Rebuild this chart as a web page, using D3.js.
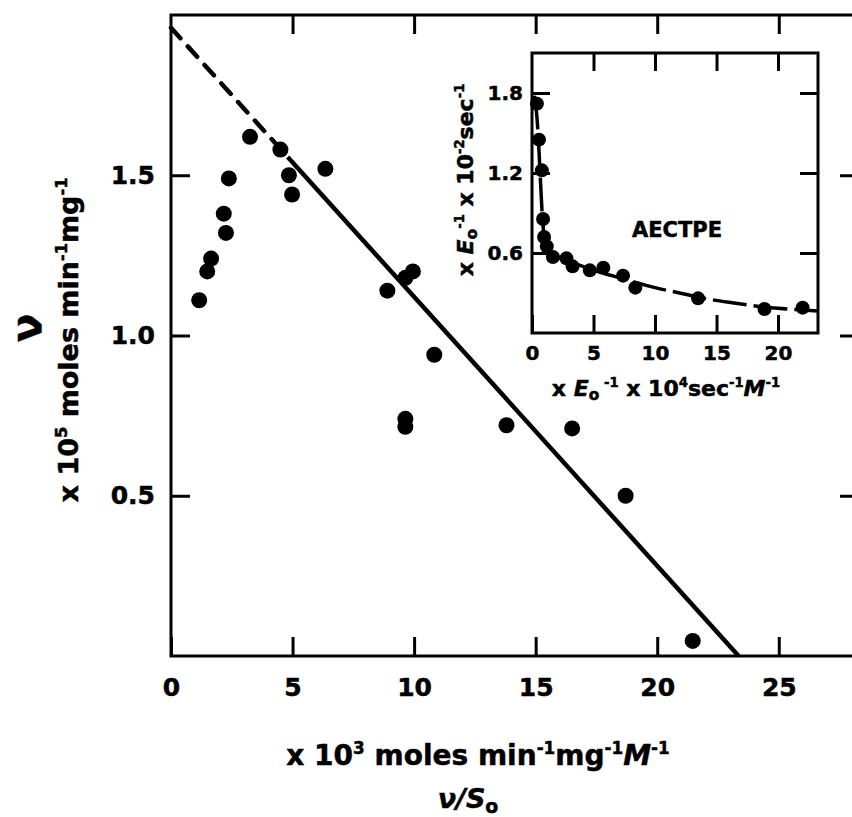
<!DOCTYPE html>
<html>
<head>
<meta charset="utf-8">
<script src="https://cdn.jsdelivr.net/npm/d3@7"></script>
<style>
  body { margin: 0; background: #fff; }
  svg { display: block; }
  text { font-family: "DejaVu Sans", sans-serif; font-weight: bold; fill: #000; stroke: #000; stroke-width: 0.5px; }
</style>
</head>
<body>
<svg id="chart" width="852" height="817"></svg>
<script>
// ---- Main plot: rate v against v/S0 ----
const mainRatio = [1.16, 1.49, 1.65, 2.17, 2.26, 2.38, 3.25, 4.50, 4.85, 4.98, 6.35,
                   8.90, 9.64, 9.95, 10.83, 9.64, 9.64, 13.80, 16.50, 18.70, 21.46];
const mainRate  = [1.11, 1.20, 1.24, 1.38, 1.32, 1.49, 1.62, 1.58, 1.50, 1.44, 1.52,
                   1.14, 1.18, 1.20, 0.94, 0.74, 0.715, 0.72, 0.71, 0.50, 0.047];
const mainXTicks = [0, 5, 10, 15, 20, 25];
const mainYTicks = [0.5, 1.0, 1.5];
// fitted straight line: intercepts on both axes, dashed extrapolation near the y axis
const fitYIntercept = 1.96;
const fitXIntercept = 23.35;
const fitDashedUntil = 4.8;

// ---- Inset: AECTPE ----
const insetX = [0.40, 0.57, 0.80, 0.90, 0.98, 1.20, 1.70, 2.80, 3.30, 4.70, 5.80, 7.40, 8.40, 13.50, 18.90, 22.00];
const insetY = [1.72, 1.45, 1.22, 0.855, 0.72, 0.65, 0.57, 0.56, 0.50, 0.47, 0.49, 0.43, 0.34, 0.26, 0.18, 0.19];
const insetCurveX = [0.20, 0.40, 0.55, 0.70, 0.85, 1.00, 1.30, 1.80, 2.50, 3.50, 5.00, 6.50, 8.00, 10.0, 12.0, 14.0, 16.0, 18.0, 20.0, 22.0, 23.25];
const insetCurveY = [1.78, 1.62, 1.40, 1.12, 0.86, 0.72, 0.64, 0.59, 0.555, 0.52, 0.47, 0.43, 0.39, 0.34, 0.30, 0.26, 0.23, 0.205, 0.185, 0.172, 0.165];
const insetXTicks = [0, 5, 10, 15, 20];
const insetYTicks = [0.6, 1.2, 1.8];

const svg = d3.select("#chart");

// scales
const x = d3.scaleLinear().domain([0, 28.3]).range([171, 859]);
const y = d3.scaleLinear().domain([0, 2.0]).range([656, 15]);
const ix = d3.scaleLinear().domain([0, 23.25]).range([532, 818]);
const iy = d3.scaleLinear().domain([0, 2.1]).range([333, 53]);

// text with super/subscripts and italics
function rich(sel, parts, size) {
  let shift = 0;
  parts.forEach(p => {
    const ts = sel.append("tspan").text(p.t);
    let target = 0;
    if (p.sup) { target = -0.4 * size; ts.attr("font-size", size * 0.6); }
    if (p.sub) { target = 0.2 * size; ts.attr("font-size", size * 0.7); }
    if (p.it) ts.attr("font-style", "italic");
    if (target !== shift) ts.attr("dy", target - shift);
    shift = target;
  });
  return sel;
}

function styleAxis(g, fs) {
  g.select(".domain").remove();
  g.selectAll(".tick line").attr("stroke", "#000").attr("stroke-width", 3);
  g.selectAll(".tick text").attr("font-size", fs).attr("fill", "#000")
    .attr("font-family", "DejaVu Sans").attr("font-weight", "bold");
}

// ---- main frame and axes ----
const tk = 19;
svg.append("g").attr("transform", `translate(0,${y(0)})`)
  .call(d3.axisBottom(x).tickValues(mainXTicks).tickSize(-tk).tickPadding(22).tickFormat(d3.format("d")))
  .call(g => styleAxis(g, 25));
svg.append("g").attr("transform", `translate(0,${y(2)})`)
  .call(d3.axisTop(x).tickValues(mainXTicks.slice(1)).tickSize(-tk).tickFormat(""))
  .call(g => styleAxis(g, 25));
svg.append("g").attr("transform", `translate(${x(0)},0)`)
  .call(d3.axisLeft(y).tickValues(mainYTicks).tickSize(-tk).tickPadding(16).tickFormat(d3.format(".1f")))
  .call(g => styleAxis(g, 25));
svg.append("g").attr("transform", `translate(${x(28.3)},0)`)
  .call(d3.axisRight(y).tickValues(mainYTicks).tickSize(-tk).tickFormat(""))
  .call(g => styleAxis(g, 25));
svg.append("rect")
  .attr("x", x(0)).attr("y", y(2)).attr("width", x(28.3) - x(0)).attr("height", y(0) - y(2))
  .attr("fill", "none").attr("stroke", "#000").attr("stroke-width", 3);

// fitted line
const fitAt = v => fitYIntercept * (1 - v / fitXIntercept);
const line = d3.line().x(d => x(d[0])).y(d => y(d[1]));
svg.append("path")
  .datum([[0, fitYIntercept], [fitDashedUntil, fitAt(fitDashedUntil)]])
  .attr("d", line).attr("fill", "none").attr("stroke", "#000")
  .attr("stroke-width", 4.5).attr("stroke-dasharray", "14,11").attr("stroke-linecap", "round");
svg.append("path")
  .datum([[fitDashedUntil, fitAt(fitDashedUntil)], [fitXIntercept, 0]])
  .attr("d", line).attr("fill", "none").attr("stroke", "#000").attr("stroke-width", 4.5);

// data points
svg.append("g").selectAll("circle").data(d3.range(mainRatio.length)).join("circle")
  .attr("cx", i => x(mainRatio[i])).attr("cy", i => y(mainRate[i])).attr("r", 8).attr("fill", "#000");

// axis titles
svg.append("text").attr("x", 478).attr("y", 765).attr("text-anchor", "middle").attr("font-size", 28)
  .call(t => rich(t, [{t: "x 10"}, {t: "3", sup: 1}, {t: " moles min"}, {t: "-1", sup: 1},
                      {t: "mg"}, {t: "-1", sup: 1}, {t: "M", it: 1}, {t: "-1", sup: 1}], 28));
svg.append("text").attr("x", 468).attr("y", 808).attr("text-anchor", "middle").attr("font-size", 27)
  .call(t => rich(t, [{t: "ν/", it: 1}, {t: "S", it: 1}, {t: "o", sub: 1}], 27));

svg.append("text").attr("transform", "translate(41,328) rotate(-90)").attr("text-anchor", "middle")
  .attr("font-size", 42).text("ν");
svg.append("text").attr("transform", "translate(78,340) rotate(-90)").attr("text-anchor", "middle")
  .attr("font-size", 27)
  .call(t => rich(t, [{t: "x 10"}, {t: "5", sup: 1}, {t: " moles min"}, {t: "-1", sup: 1},
                      {t: "mg"}, {t: "-1", sup: 1}], 27));

// ---- inset ----
const inset = svg.append("g");
inset.append("rect").attr("x", ix(0)).attr("y", iy(2.1)).attr("width", ix(23.25) - ix(0))
  .attr("height", iy(0) - iy(2.1)).attr("fill", "#fff");
const itk = 18;
inset.append("g").attr("transform", `translate(0,${iy(0)})`)
  .call(d3.axisBottom(ix).tickValues(insetXTicks).tickSize(-itk).tickPadding(13).tickFormat(d3.format("d")))
  .call(g => styleAxis(g, 20));
inset.append("g").attr("transform", `translate(0,${iy(2.1)})`)
  .call(d3.axisTop(ix).tickValues(insetXTicks.slice(1)).tickSize(-itk).tickFormat(""))
  .call(g => styleAxis(g, 20));
inset.append("g").attr("transform", `translate(${ix(0)},0)`)
  .call(d3.axisLeft(iy).tickValues(insetYTicks).tickSize(-itk).tickPadding(9).tickFormat(d3.format(".1f")))
  .call(g => styleAxis(g, 20));
inset.append("g").attr("transform", `translate(${ix(23.25)},0)`)
  .call(d3.axisRight(iy).tickValues(insetYTicks).tickSize(-itk).tickFormat(""))
  .call(g => styleAxis(g, 20));
inset.append("rect").attr("x", ix(0)).attr("y", iy(2.1)).attr("width", ix(23.25) - ix(0))
  .attr("height", iy(0) - iy(2.1)).attr("fill", "none").attr("stroke", "#000").attr("stroke-width", 3);

inset.append("path")
  .datum(d3.range(insetCurveX.length))
  .attr("d", d3.line().x(i => ix(insetCurveX[i])).y(i => iy(insetCurveY[i])).curve(d3.curveMonotoneX))
  .attr("fill", "none").attr("stroke", "#000").attr("stroke-width", 3.5).attr("stroke-dasharray", "34,7");
inset.append("g").selectAll("circle").data(d3.range(insetX.length)).join("circle")
  .attr("cx", i => ix(insetX[i])).attr("cy", i => iy(insetY[i])).attr("r", 7).attr("fill", "#000");

inset.append("text").attr("x", 677).attr("y", 237).attr("text-anchor", "middle").attr("font-size", 21)
  .attr("stroke-width", 1.2).text("AECTPE");

inset.append("text").attr("x", 666).attr("y", 396).attr("text-anchor", "middle").attr("font-size", 22)
  .call(t => rich(t, [{t: "x "}, {t: "E", it: 1}, {t: "o", sub: 1}, {t: " -1", sup: 1},
                      {t: " x 10"}, {t: "4", sup: 1}, {t: "sec"}, {t: "-1", sup: 1},
                      {t: "M", it: 1}, {t: "-1", sup: 1}], 22));
inset.append("text").attr("transform", "translate(473,180) rotate(-90)").attr("text-anchor", "middle")
  .attr("font-size", 22)
  .call(t => rich(t, [{t: "x "}, {t: "E", it: 1}, {t: "o", sub: 1}, {t: "-1", sup: 1},
                      {t: " x 10"}, {t: "-2", sup: 1}, {t: "sec"}, {t: "-1", sup: 1}], 22));
</script>
</body>
</html>
